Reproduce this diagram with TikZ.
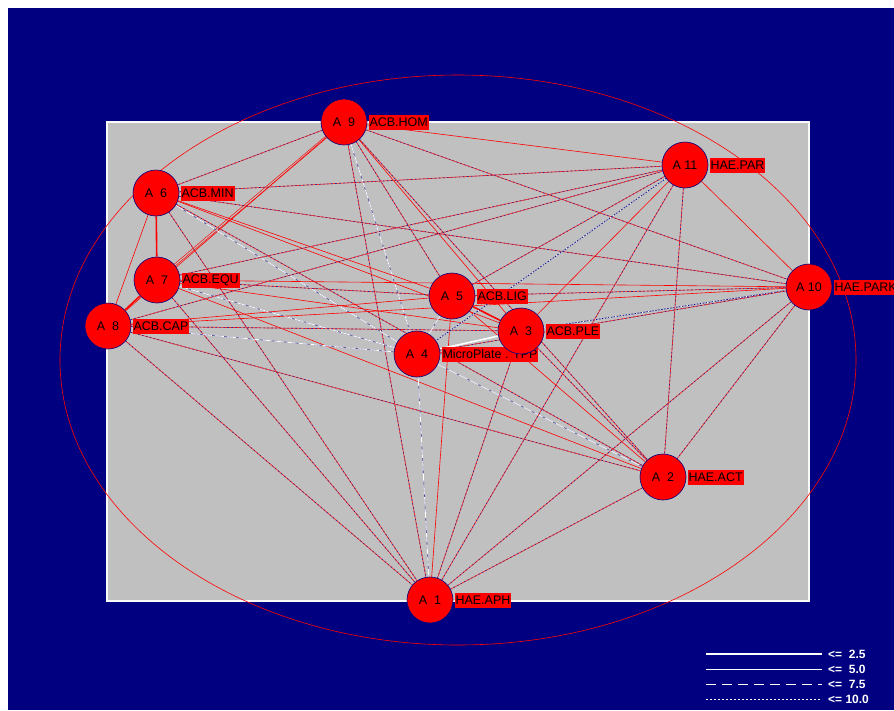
\documentclass[tikz,border=0pt]{standalone}
\usepackage{xcolor}
\usepackage{fontspec}
\setmainfont{Liberation Sans}
\usetikzlibrary{positioning, backgrounds}

\pgfdeclarelayer{edgelayer}
\pgfsetlayers{background,edgelayer,main}

\definecolor{plotnavy}{RGB}{0,0,128}
\definecolor{panelgray}{RGB}{192,192,192}

\begin{document}
\begin{tikzpicture}[x=1pt, y=-1pt,
    vertex/.style={circle, fill=red, draw=plotnavy, line width=0.6pt, minimum size=46pt,
                   inner sep=0pt, font=\fontsize{12.5}{12.5}\selectfont},
    tag/.style={fill=red, inner sep=1pt, minimum height=15pt, font=\fontsize{12.5}{12.5}\selectfont},
    redline/.style={draw=red, line width=0.6pt},
    thickred/.style={draw=red, line width=1.6pt},
    dblred/.style={draw=red, line width=0.6pt, double=panelgray, double distance=1.2pt},
    mixline/.style={draw=plotnavy!85, line width=0.6pt, dash pattern=on 1.5pt off 2.5pt,
                    preaction={draw=red!85!white, solid, line width=0.7pt}},
    whiteline/.style={draw=white, line width=0.8pt, dash pattern=on 9pt off 3pt,
                      preaction={draw=plotnavy!70, solid, line width=0.6pt}},
    whitethick/.style={draw=white, line width=1.6pt},
    dotline/.style={draw=white, line width=0.7pt, dash pattern=on 1.5pt off 1.5pt,
                    preaction={draw=plotnavy, solid, line width=0.7pt}},
    keytext/.style={anchor=west, text=white, inner sep=0pt, font=\fontsize{12}{12}\selectfont\bfseries}]

  \useasboundingbox (0,0) rectangle (894,710);
  \begin{pgfonlayer}{background}
    \fill[white] (0,0) rectangle (894,710);
    \fill[plotnavy] (8,8) rectangle (894,710);
    \draw[panelgray, fill=panelgray] (107,122) rectangle (809,601);
    \draw[white!90!panelgray, line width=1.5pt] (107,122) rectangle (809,601);
    \draw[red, line width=0.6pt] (458,360) ellipse [x radius=398pt, y radius=285pt];
  \end{pgfonlayer}

  % vertices and their names
  \node[vertex] (a_1)  at (430,600) {A\ \ 1};
  \node[tag]    (l_1)  [right=1pt of a_1]  {HAE.APH};
  \node[vertex] (a_2)  at (663,477) {A\ \ 2};
  \node[tag]    (l_2)  [right=1pt of a_2]  {HAE.ACT};
  \node[vertex] (a_4)  at (417,354) {A\ \ 4};
  \node[tag]    (l_4)  [right=1pt of a_4]  {MicroPlate . TPP};
  \node[vertex] (a_3)  at (521,331) {A\ \ 3};
  \node[tag]    (l_3)  [right=1pt of a_3]  {ACB.PLE};
  \node[vertex] (a_5)  at (452,296) {A\ \ 5};
  \node[tag]    (l_5)  [right=1pt of a_5]  {ACB.LIG};
  \node[vertex] (a_6)  at (156,193) {A\ \ 6};
  \node[tag]    (l_6)  [right=1pt of a_6]  {ACB.MIN};
  \node[vertex] (a_7)  at (157,280) {A\ \ 7};
  \node[tag]    (l_7)  [right=1pt of a_7]  {ACB.EQU};
  \node[vertex] (a_8)  at (108,326) {A\ \ 8};
  \node[tag]    (l_8)  [right=1pt of a_8]  {ACB.CAP};
  \node[vertex] (a_9)  at (344,122) {A\ \ 9};
  \node[tag]    (l_9)  [right=1pt of a_9]  {ACB.HOM};
  \node[vertex] (a_10) at (809,287) {A 10};
  \node[tag]    (l_10) [right=1pt of a_10] {HAE.PARK};
  \node[vertex] (a_11) at (685,165) {A 11};
  \node[tag]    (l_11) [right=1pt of a_11] {HAE.PAR};

  \begin{pgfonlayer}{edgelayer}
    \path
      (a_9)  edge[redline]    (a_11)
             edge[mixline]    (a_6)
             edge[dblred]     (a_7)
             edge[redline]    (a_8)
             edge[mixline]    (a_1)
             edge[whiteline]  (a_4)
             edge[redline]    (a_3)
             edge[mixline]    (a_5)
             edge[mixline]    (a_2)
             edge[mixline]    (a_10)
      (a_6)  edge[thickred]   (a_7)
             edge[redline]    (a_8)
             edge[mixline]    (a_11)
             edge[mixline]    (a_10)
             edge[redline]    (a_5)
             edge[redline]    (a_3)
             edge[whiteline]  (a_4)
             edge[mixline]    (a_2)
             edge[mixline]    (a_1)
      (a_7)  edge[thickred]   (a_8)
             edge[mixline]    (a_5)
             edge[redline]    (a_3)
             edge[redline]    (a_10)
             edge[whiteline]  (a_4)
             edge[mixline]    (a_11)
             edge[redline]    (a_2)
             edge[mixline]    (a_1)
      (a_8)  edge[mixline]    (a_11)
             edge[redline]    (a_10)
             edge[redline]    (a_5)
             edge[mixline]    (a_3)
             edge[whiteline]  (a_4)
             edge[mixline]    (a_2)
             edge[mixline]    (a_1)
      (a_5)  edge[mixline]    (a_11)
             edge[mixline]    (a_10)
             edge[thickred]   (a_3)
             edge[whiteline]  (a_4)
             edge[redline]    (a_2)
             edge[redline]    (a_1)
      (a_3)  edge[whitethick] (a_4)
             edge[redline]    (a_11)
             edge[dotline]    (a_10)
             edge[mixline]    (a_2)
             edge[mixline]    (a_1)
      (a_4)  edge[dotline]    (a_11)
             edge[mixline]    (a_10)
             edge[whiteline]  (a_2)
             edge[whiteline]  (a_1)
      (a_11) edge[redline]    (a_10)
             edge[mixline]    (a_2)
             edge[mixline]    (a_1)
      (a_10) edge[mixline]    (a_2)
             edge[mixline]    (a_1)
      (a_2)  edge[mixline]    (a_1);
  \end{pgfonlayer}

  % key
  \coordinate (k_1) at (706,654); \coordinate (k_1e) at (822,654);
  \coordinate (k_2) at (706,669); \coordinate (k_2e) at (822,669);
  \coordinate (k_3) at (706,684); \coordinate (k_3e) at (822,684);
  \coordinate (k_4) at (706,699); \coordinate (k_4e) at (822,699);
  \draw[white, line width=1.4pt] (k_1) -- (k_1e);
  \draw[white, line width=0.8pt] (k_2) -- (k_2e);
  \draw[white, line width=0.8pt, dash pattern=on 10pt off 6pt] (k_3) -- (k_3e);
  \draw[white, line width=0.6pt, dash pattern=on 2pt off 2pt] (k_4) -- (k_4e);
  \node[keytext] (t_1) at (828,654) {<=\ \ 2.5};
  \node[keytext] (t_2) at (828,669) {<=\ \ 5.0};
  \node[keytext] (t_3) at (828,684) {<=\ \ 7.5};
  \node[keytext] (t_4) at (828,699) {<= 10.0};
\end{tikzpicture}
\end{document}
